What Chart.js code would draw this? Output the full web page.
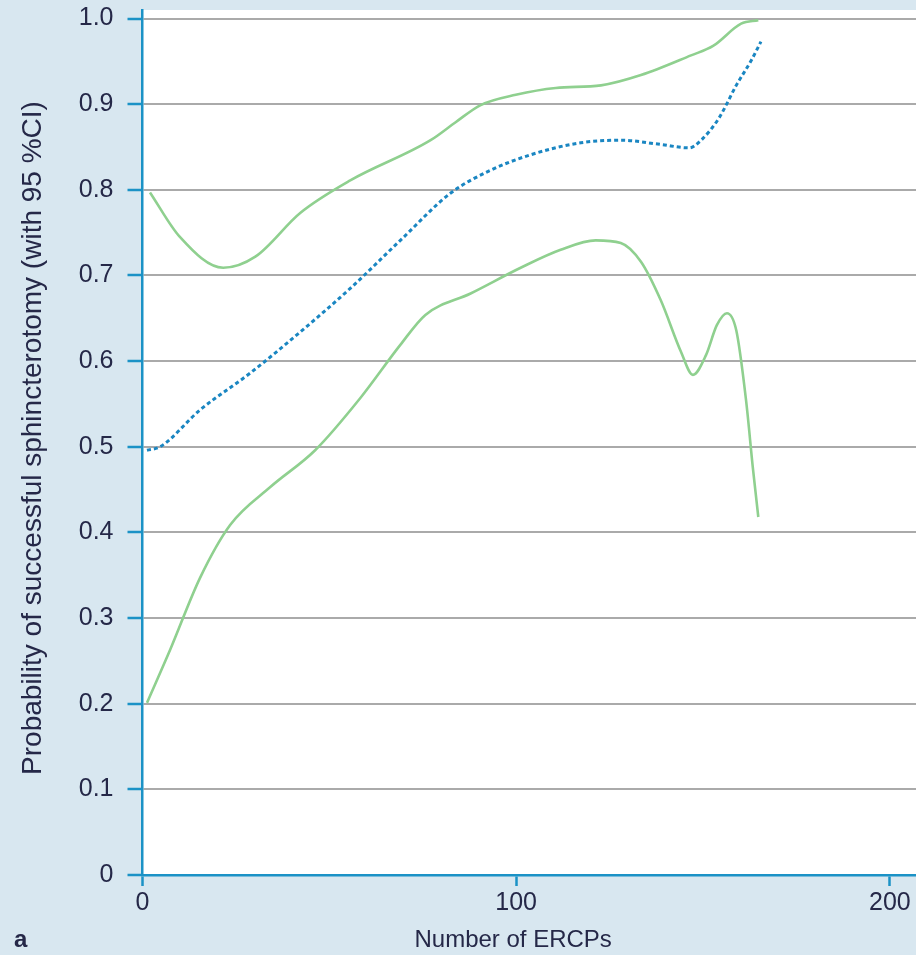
<!DOCTYPE html>
<html>
<head>
<meta charset="utf-8">
<script src="https://cdn.jsdelivr.net/npm/chart.js@4.4.1/dist/chart.umd.min.js"></script>
<style>
  html, body { margin: 0; padding: 0; background: #d8e7f0; }
  #wrap { width: 916px; height: 955px; position: relative; }
</style>
</head>
<body>
<div id="wrap"><canvas id="myChart" width="916" height="955"></canvas></div>
<script>
// values (x = number of ERCPs, y = probability)
var upperX = [2, 10, 21.6, 30.2, 42.2, 55.6, 77.1, 83.8, 90.5, 99.9, 110.6, 122.7, 133.4, 146.8, 152.7, 160.2, 164.8];
var upperY = [0.797, 0.745, 0.709, 0.722, 0.773, 0.811, 0.858, 0.879, 0.899, 0.911, 0.919, 0.922, 0.934, 0.957, 0.968, 0.994, 0.998];

var probX = [1.2, 4.7, 15.4, 28.8, 42.2, 55.6, 69, 82.4, 93.2, 103.9, 117.3, 128, 138.7, 146.3, 149.5, 154.3, 158.9, 162.9, 165.5];
var probY = [0.496, 0.5, 0.543, 0.586, 0.634, 0.685, 0.741, 0.796, 0.823, 0.841, 0.855, 0.858, 0.853, 0.849, 0.858, 0.884, 0.922, 0.951, 0.973];

var lowerX = [1.2, 7.4, 15.4, 23.5, 34.2, 46.2, 58.3, 69, 75.7, 87.8, 101.2, 111.9, 121.3, 128, 133.4, 138.7, 144.1, 147.3, 150.8, 153.7, 156.4, 158.9, 161.5, 163.4, 164.8];
var lowerY = [0.201, 0.263, 0.347, 0.409, 0.453, 0.496, 0.557, 0.619, 0.654, 0.679, 0.709, 0.730, 0.741, 0.738, 0.716, 0.671, 0.611, 0.584, 0.607, 0.642, 0.656, 0.636, 0.555, 0.473, 0.418];

var xTicks = [0, 100, 200];
var yTicks = [0, 0.1, 0.2, 0.3, 0.4, 0.5, 0.6, 0.7, 0.8, 0.9, 1.0];

var xTitle = 'Number of ERCPs';
var yTitle = 'Probability of successful sphincterotomy (with 95 %CI)';
var panelLabel = 'a';

function pts(xs, ys) {
  return xs.map(function(x, i){ return {x: x, y: ys[i]}; });
}

var textColor = '#252848';
var axisBlue = '#1b92c6';
var green = '#8fd08f';
var font = 'Liberation Sans';

// white plot area + titles
var plotBg = {
  id: 'plotBg',
  beforeDraw: function(chart) {
    var a = chart.chartArea, c = chart.ctx;
    c.save();
    c.fillStyle = '#ffffff';
    c.fillRect(a.left, a.top, a.right - a.left, a.bottom - a.top);
    c.restore();
  },
  afterDraw: function(chart) {
    var c = chart.ctx;
    var xs = chart.scales.x;
    c.save();
    c.fillStyle = textColor;
    c.font = '24px "' + font + '"';
    c.textAlign = 'center';
    c.textBaseline = 'alphabetic';
    c.fillText(xTitle, xs.getPixelForValue(100) - 3, 947);
    c.font = 'bold 24px "' + font + '"';
    c.textAlign = 'left';
    c.fillText(panelLabel, 14, 947);
    c.translate(41, 438);
    c.rotate(-Math.PI / 2);
    c.font = '28px "' + font + '"';
    c.textAlign = 'center';
    c.fillText(yTitle, 0, 0);
    c.restore();
  }
};

var ctx = document.getElementById('myChart').getContext('2d');
var myChart = new Chart(ctx, {
  type: 'line',
  data: {
    datasets: [{
      label: 'upper 95% CI',
      data: pts(upperX, upperY),
      borderColor: green,
      borderWidth: 2.6,
      pointRadius: 0,
      cubicInterpolationMode: 'monotone'
    }, {
      label: 'probability',
      data: pts(probX, probY),
      borderColor: '#1a86c2',
      borderWidth: 3,
      borderDash: [4, 3],
      pointRadius: 0,
      cubicInterpolationMode: 'monotone'
    }, {
      label: 'lower 95% CI',
      data: pts(lowerX, lowerY),
      borderColor: green,
      borderWidth: 2.6,
      pointRadius: 0,
      cubicInterpolationMode: 'monotone'
    }]
  },
  options: {
    responsive: false,
    animation: false,
    layout: { padding: { top: 10, left: 0, right: 0, bottom: 0 } },
    plugins: { legend: { display: false }, tooltip: { enabled: false } },
    scales: {
      x: {
        type: 'linear',
        min: 0,
        max: 207,
        afterFit: function(s) { s.height = 80; },
        afterBuildTicks: function(s) { s.ticks = xTicks.map(function(v){ return {value: v}; }); },
        border: { color: axisBlue, width: 2.5 },
        grid: { drawOnChartArea: false, drawTicks: true, tickLength: 11, tickColor: axisBlue, tickWidth: 2.5 },
        ticks: { color: textColor, font: { family: font, size: 25 }, padding: 2, maxRotation: 0 }
      },
      y: {
        min: 0,
        max: 1.01,
        afterFit: function(s) { s.width = 142.5; s.paddingTop = 0; s.paddingBottom = 0; },
        afterBuildTicks: function(s) { s.ticks = yTicks.map(function(v){ return {value: v}; }); },
        border: { color: axisBlue, width: 2.5 },
        grid: { color: '#aaaaaa', lineWidth: 2, drawTicks: true, tickLength: 15, tickColor: axisBlue, tickWidth: 2.5 },
        ticks: {
          color: textColor, font: { family: font, size: 25 }, padding: 14,
          callback: function(v) { return v === 0 ? '0' : v.toFixed(1); }
        }
      }
    }
  },
  plugins: [plotBg]
});
</script>
</body>
</html>
